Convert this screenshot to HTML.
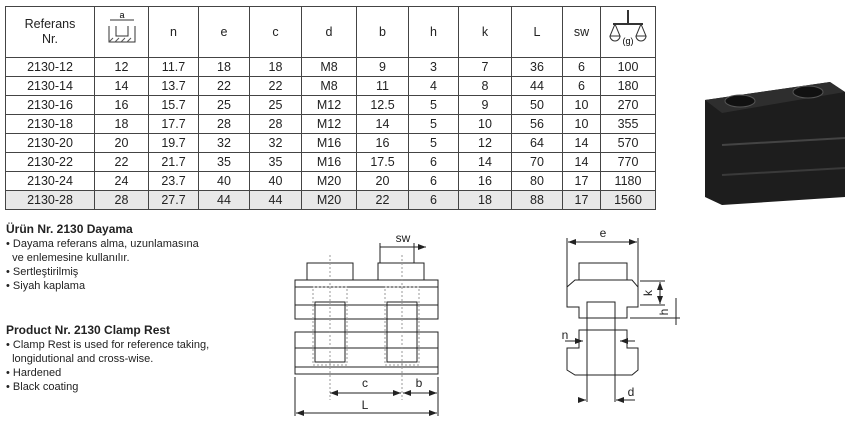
<!DOCTYPE html>
<html><head><meta charset="utf-8"><style>
body{margin:0;width:861px;height:423px;background:#fff;overflow:hidden;position:relative;font-family:"Liberation Sans",sans-serif;color:#222}
table{position:absolute;left:5px;top:6px;border-collapse:collapse;font-size:12.5px}
td{border:1px solid #444;text-align:center;padding:0;height:18px;line-height:18px}
tr.h td{height:50px;line-height:15px}
tr.g td{background:#e8e8e8}
.t{position:absolute;left:6px;font-size:11px;line-height:14px;color:#222}
.t b{font-size:12px}
</style></head><body>
<table>
<colgroup><col style="width:89px"><col style="width:54px"><col style="width:50px"><col style="width:51px"><col style="width:52px"><col style="width:55px"><col style="width:52px"><col style="width:50px"><col style="width:53px"><col style="width:51px"><col style="width:38px"><col style="width:55px"></colgroup>
<tr class="h"><td>Referans<br>Nr.</td><td><svg width="34" height="40" viewBox="0 0 34 40"><text x="17" y="8" font-size="9" text-anchor="middle" font-family="Liberation Sans">a</text><line x1="5" y1="10" x2="29" y2="10" stroke="#333"/><path d="M4 16v16h26V16M11 16v10h12V16" fill="none" stroke="#333"/><path d="M4 32l4-4M10 32l4-4M16 32l4-4M22 32l4-4" stroke="#555"/></svg></td><td>n</td><td>e</td><td>c</td><td>d</td><td>b</td><td>h</td><td>k</td><td>L</td><td>sw</td><td><svg width="40" height="44" viewBox="0 0 40 44"><line x1="20" y1="2" x2="20" y2="16" stroke="#333" stroke-width="2"/><line x1="5" y1="16" x2="35" y2="16" stroke="#333" stroke-width="2"/><path d="M7 16l-5 12h10zM33 16l-5 12h10z" fill="none" stroke="#333"/><path d="M2 28a5 5 0 0 0 10 0M28 28a5 5 0 0 0 10 0" fill="none" stroke="#333"/><text x="20" y="36" font-size="9" text-anchor="middle" font-family="Liberation Sans">(g)</text></svg></td></tr>
<tr><td>2130-12</td><td>12</td><td>11.7</td><td>18</td><td>18</td><td>M8</td><td>9</td><td>3</td><td>7</td><td>36</td><td>6</td><td>100</td></tr>
<tr><td>2130-14</td><td>14</td><td>13.7</td><td>22</td><td>22</td><td>M8</td><td>11</td><td>4</td><td>8</td><td>44</td><td>6</td><td>180</td></tr>
<tr><td>2130-16</td><td>16</td><td>15.7</td><td>25</td><td>25</td><td>M12</td><td>12.5</td><td>5</td><td>9</td><td>50</td><td>10</td><td>270</td></tr>
<tr><td>2130-18</td><td>18</td><td>17.7</td><td>28</td><td>28</td><td>M12</td><td>14</td><td>5</td><td>10</td><td>56</td><td>10</td><td>355</td></tr>
<tr><td>2130-20</td><td>20</td><td>19.7</td><td>32</td><td>32</td><td>M16</td><td>16</td><td>5</td><td>12</td><td>64</td><td>14</td><td>570</td></tr>
<tr><td>2130-22</td><td>22</td><td>21.7</td><td>35</td><td>35</td><td>M16</td><td>17.5</td><td>6</td><td>14</td><td>70</td><td>14</td><td>770</td></tr>
<tr><td>2130-24</td><td>24</td><td>23.7</td><td>40</td><td>40</td><td>M20</td><td>20</td><td>6</td><td>16</td><td>80</td><td>17</td><td>1180</td></tr>
<tr class="g"><td>2130-28</td><td>28</td><td>27.7</td><td>44</td><td>44</td><td>M20</td><td>22</td><td>6</td><td>18</td><td>88</td><td>17</td><td>1560</td></tr>
</table>
<div class="t" style="top:222px"><b>Ürün Nr. 2130 Dayama</b><br>• Dayama referans alma, uzunlamasına<br>&nbsp;&nbsp;ve enlemesine kullanılır.<br>• Sertleştirilmiş<br>• Siyah kaplama</div>
<div class="t" style="top:323px"><b>Product Nr. 2130 Clamp Rest</b><br>• Clamp Rest is used for reference taking,<br>&nbsp;&nbsp;longidutional and cross-wise.<br>• Hardened<br>• Black coating</div>
<svg style="position:absolute;left:0;top:0" width="861" height="423" viewBox="0 0 861 423" font-family="Liberation Sans" font-size="12" fill="none" stroke="#222" stroke-width="1">
<defs><marker id="a" markerWidth="8" markerHeight="6" refX="8" refY="3" orient="auto-start-reverse"><path d="M0 0L8 3L0 6z" fill="#222" stroke="none"/></marker></defs>
<!-- photo -->
<polygon points="705,100 830,82 845,92 845,197 722,205 705,197" fill="#1d1d1d" stroke="none"/>
<polygon points="705,100 830,82 845,92 722,113" fill="#2e2e2e" stroke="none"/>
<line x1="722" y1="145" x2="845" y2="138" stroke="#444" stroke-width="2"/>
<line x1="722" y1="175" x2="845" y2="168" stroke="#3a3a3a" stroke-width="2"/>
<ellipse cx="740" cy="101" rx="15" ry="6" fill="#111" stroke="#555"/>
<ellipse cx="808" cy="92" rx="15" ry="6" fill="#111" stroke="#555"/>
<!-- left drawing -->
<rect x="307" y="263" width="46" height="17"/><rect x="378" y="263" width="46" height="17"/>
<rect x="295" y="280" width="143" height="39"/>
<line x1="295" y1="287" x2="438" y2="287"/><line x1="295" y1="305" x2="438" y2="305"/>
<rect x="295" y="332" width="143" height="42"/>
<line x1="295" y1="348" x2="438" y2="348"/><line x1="295" y1="367" x2="438" y2="367"/>
<rect x="315" y="302" width="30" height="60"/><rect x="387" y="302" width="30" height="60"/>
<g stroke="#999" stroke-dasharray="2 2"><rect x="313" y="287" width="34" height="78"/><rect x="385" y="287" width="34" height="78"/><line x1="330" y1="255" x2="330" y2="400"/><line x1="402" y1="255" x2="402" y2="400"/></g>
<line x1="295" y1="377" x2="295" y2="416"/><line x1="438" y1="377" x2="438" y2="416"/>
<line x1="330" y1="393" x2="401" y2="393" marker-start="url(#a)" marker-end="url(#a)"/>
<line x1="403" y1="393" x2="437" y2="393" marker-start="url(#a)" marker-end="url(#a)"/>
<line x1="296" y1="413" x2="437" y2="413" marker-start="url(#a)" marker-end="url(#a)"/>
<line x1="380" y1="243" x2="380" y2="263"/><line x1="414" y1="243" x2="414" y2="263"/>
<line x1="380" y1="247" x2="426" y2="247" marker-end="url(#a)"/>
<g fill="#222" stroke="none" text-anchor="middle"><text x="403" y="242">sw</text><text x="365" y="387">c</text><text x="419" y="387">b</text><text x="365" y="409">L</text></g>
<!-- right drawing -->
<rect x="579" y="263" width="48" height="17"/>
<polygon points="575,280 632,280 638,287 638,307 627,307 627,318 579,318 579,307 567,307 567,287"/>
<polygon points="579,330 627,330 627,348 638,348 638,370 632,375 575,375 567,370 567,348 579,348"/>
<rect x="587" y="302" width="28" height="73"/>
<line x1="587" y1="375" x2="587" y2="402"/><line x1="615" y1="375" x2="615" y2="402"/>
<line x1="567" y1="238" x2="567" y2="287"/><line x1="638" y1="238" x2="638" y2="287"/>
<line x1="568" y1="242" x2="637" y2="242" marker-start="url(#a)" marker-end="url(#a)"/>
<line x1="640" y1="281" x2="665" y2="281"/><line x1="640" y1="305" x2="665" y2="305"/>
<line x1="660" y1="282" x2="660" y2="304" marker-start="url(#a)" marker-end="url(#a)"/>
<line x1="630" y1="318" x2="680" y2="318"/>
<line x1="676" y1="298" x2="676" y2="325"/>
<line x1="565" y1="341" x2="583" y2="341" marker-end="url(#a)"/>
<line x1="635" y1="341" x2="620" y2="341" marker-end="url(#a)"/>
<line x1="580" y1="400" x2="586" y2="400" marker-end="url(#a)"/>
<line x1="635" y1="400" x2="616" y2="400" marker-end="url(#a)"/>
<g fill="#222" stroke="none" text-anchor="middle"><text x="603" y="237">e</text><text x="565" y="339">n</text><text x="631" y="396">d</text>
<text transform="translate(652,293) rotate(-90)">k</text><text transform="translate(668,312) rotate(-90)">h</text></g>
</svg>
</body></html>
